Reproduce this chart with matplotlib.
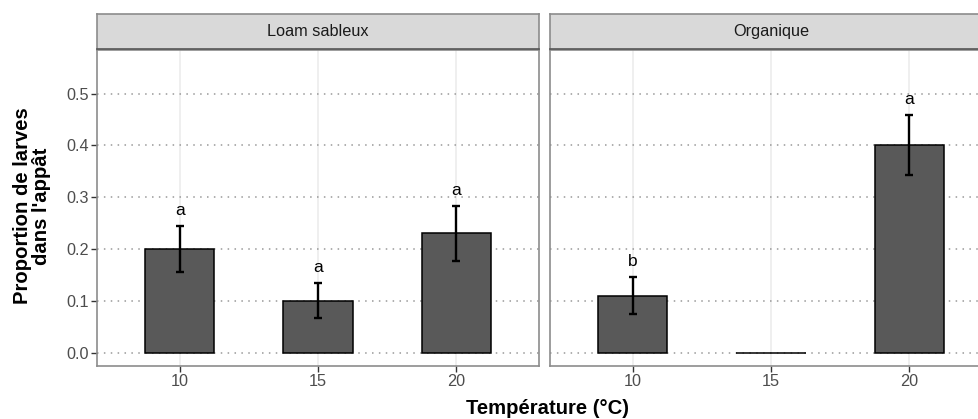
import matplotlib
matplotlib.use('Agg')
import matplotlib.pyplot as plt
import numpy as np

plt.rcParams['font.family'] = ['Liberation Sans', 'DejaVu Sans']

# data
temperatures = ['10', '15', '20']
facets = ['Loam sableux', 'Organique']
loam_mean = [0.20, 0.10, 0.23]
loam_low = [0.156, 0.066, 0.177]
loam_high = [0.245, 0.134, 0.283]
loam_letters = ['a', 'a', 'a']
org_mean = [0.11, 0.0, 0.40]
org_low = [0.074, np.nan, 0.342]
org_high = [0.146, np.nan, 0.458]
org_letters = ['b', '', 'a']

W, H = 979, 419
fig = plt.figure(figsize=(W / 100, H / 100), dpi=100)

border = '#8c8c8c'
panel_x = [97, 550]
panel_w = 442
panel_top, panel_bot = 49.5, 366
strip_top = 14

series = [
    (loam_mean, loam_low, loam_high, loam_letters),
    (org_mean, org_low, org_high, org_letters),
]

x = np.arange(1, len(temperatures) + 1)
for i, (px, name) in enumerate(zip(panel_x, facets)):
    ax = fig.add_axes([px / W, 1 - panel_bot / H, panel_w / W, (panel_bot - panel_top) / H])
    mean, low, high, letters = series[i]
    mean = np.array(mean)
    low = np.array(low)
    high = np.array(high)

    ax.set_xlim(0.4, 3.6)
    ax.set_ylim(-0.0257, 0.585)

    # grid
    for xv in x:
        ax.axvline(xv, color='#ebebeb', lw=1.1, zorder=0)
    for yv in np.arange(0, 0.51, 0.1):
        ax.axhline(yv, color='#999999', lw=1.1, ls=(0, (1, 3.5)), zorder=0.5)

    ax.bar(x, mean, width=0.5, color='#595959', edgecolor='black', linewidth=1.1, zorder=2)
    ok = ~np.isnan(low)
    ax.errorbar(x[ok], mean[ok], yerr=[mean[ok] - low[ok], high[ok] - mean[ok]],
                fmt='none', ecolor='black', elinewidth=1.7, capsize=3.2, capthick=1.7, zorder=3)
    for xv, hv, lab in zip(x, high, letters):
        if lab:
            ax.text(xv, hv + 0.03, lab, ha='center', va='center', fontsize=12.5, color='black', zorder=4)

    ax.set_xticks(x)
    ax.set_xticklabels(temperatures)
    ax.set_yticks(np.arange(0, 0.51, 0.1))
    if i == 0:
        ax.set_yticklabels(['%.1f' % v for v in np.arange(0, 0.51, 0.1)])
        ax.tick_params(axis='y', length=4, width=1, color='#333333', labelsize=11.7,
                       labelcolor='#4d4d4d', pad=2)
    else:
        ax.set_yticklabels([])
        ax.tick_params(axis='y', length=0)
    ax.tick_params(axis='x', length=4, width=1, color='#333333', labelsize=11.7,
                   labelcolor='#4d4d4d', pad=2)
    for s in ax.spines.values():
        s.set_color(border)
        s.set_linewidth(1.2)
        s.set_zorder(5)

    # facet strip
    sax = fig.add_axes([px / W, 1 - panel_top / H, panel_w / W, (panel_top - strip_top) / H])
    sax.set_facecolor('#d9d9d9')
    sax.set_xticks([])
    sax.set_yticks([])
    for s in sax.spines.values():
        s.set_color(border)
        s.set_linewidth(1.2)
    sax.spines['bottom'].set_color('#555555')
    sax.text(0.5, 0.5, name, transform=sax.transAxes, ha='center', va='center',
             fontsize=11.7, color='#1a1a1a')

fig.text(548 / W, 1 - 408 / H, 'Température (°C)', ha='center', va='center',
         fontsize=14.6, fontweight='bold')
fig.text(32 / W, 1 - 206 / H, "Proportion de larves\ndans l'appât", ha='center', va='center',
         rotation=90, fontsize=14.6, fontweight='bold', linespacing=1.0)

fig.savefig('out.png', dpi=100)
